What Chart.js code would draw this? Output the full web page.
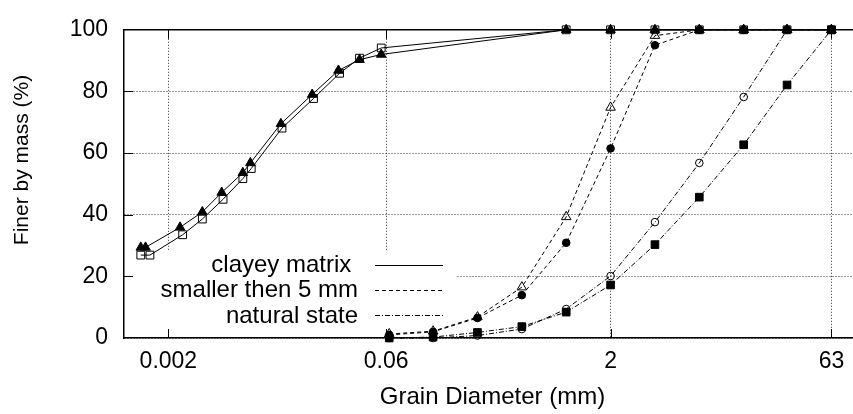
<!DOCTYPE html>
<html>
<head>
<meta charset="utf-8">
<title>Grain size distribution</title>
<script src="https://cdn.jsdelivr.net/npm/chart.js@4.4.1/dist/chart.umd.min.js"></script>
<style>
    html, body { margin: 0; padding: 0; background: #fff; overflow: hidden; }
    canvas { display: block; }
</style>
</head>
<body>
<canvas id="chart" width="880" height="414"></canvas>
<script>
// sieve sizes (mm) for the coarse part of every curve
const sieveSizes = [0.063, 0.125, 0.25, 0.5, 1, 2, 4, 8, 16, 31.5, 63];

// clayey matrix (hydrometer + sieve), two samples
const clayeySquareX = [0.0013, 0.0015, 0.0025, 0.0034, 0.0047, 0.0064, 0.0073, 0.0118, 0.0193, 0.029, 0.0396, 0.0556, 1, 2, 4, 8, 16, 31.5, 63];
const clayeySquareY = [26.9, 26.9, 33.5, 38.6, 45.0, 51.7, 55.0, 68.1, 77.7, 85.9, 90.8, 94.1, 100, 100, 100, 100, 100, 100, 100];
const clayeyTriangleX = [0.0013, 0.0014, 0.0024, 0.0034, 0.0046, 0.0064, 0.0072, 0.0116, 0.0189, 0.0285, 0.0396, 0.0556, 1, 2, 4, 8, 16, 31.5, 63];
const clayeyTriangleY = [29.4, 29.4, 35.9, 40.9, 47.2, 53.6, 56.8, 69.5, 79.0, 86.8, 90.3, 92.0, 100, 100, 100, 100, 100, 100, 100];

// smaller then 5 mm
const smallerTriangleY = [1.3, 2.2, 6.8, 16.5, 39.3, 74.8, 98.1, 100, 100, 100, 100];
const smallerCircleY = [1.0, 2.0, 6.5, 13.9, 30.9, 61.5, 95.0, 100, 100, 100, 100];

// natural state
const naturalCircleY = [0, 0, 0.8, 2.9, 9.4, 20.1, 37.6, 56.8, 78.2, 100, 100];
const naturalSquareY = [0, 0.3, 1.8, 3.7, 8.4, 17.2, 30.3, 45.7, 62.7, 82.1, 100];

const xTickValues = [0.002, 0.06, 2, 63];
const xTickLabels = ['0.002', '0.06', '2', '63'];
const legendLabels = ['clayey matrix ', 'smaller then 5 mm', 'natural state'];
const legendDashes = [[], [4, 3], [5, 2, 1, 2]];

const FONT = '"Liberation Sans", Arial, Helvetica, sans-serif';

function toPoints(xs, ys) {
    return xs.map((x, i) => ({ x: x, y: ys[i] }));
}

function series(label, points, dash, style, filled, radius) {
    return {
        label: label,
        data: points,
        borderColor: '#000',
        borderWidth: 1,
        borderDash: dash,
        pointStyle: style,
        pointRadius: radius,
        pointBorderWidth: 1,
        pointBorderColor: '#000',
        pointBackgroundColor: filled ? '#000' : 'rgba(0,0,0,0)',
        tension: 0,
        fill: false,
        clip: false
    };
}

// gnuplot-like opaque key, inward ticks, top border, y label
const framePlugin = {
    id: 'frame',
    beforeDatasetsDraw(chart) {
        const { ctx, chartArea } = chart;
        const left = chartArea.left;
        ctx.save();
        ctx.fillStyle = '#fff';
        ctx.fillRect(left + 9, 251, 323, 77);
        ctx.font = '24px ' + FONT;
        ctx.fillStyle = '#000';
        ctx.textAlign = 'right';
        ctx.textBaseline = 'middle';
        legendLabels.forEach((text, i) => {
            const y = 264.5 + i * 25.3;
            ctx.fillText(text, 358, y + 1);
            ctx.beginPath();
            ctx.setLineDash(legendDashes[i]);
            ctx.lineWidth = 1;
            ctx.strokeStyle = '#000';
            ctx.moveTo(375, Math.round(y) + 0.5);
            ctx.lineTo(443, Math.round(y) + 0.5);
            ctx.stroke();
        });
        ctx.restore();
    },
    afterDraw(chart) {
        const { ctx, chartArea, scales } = chart;
        const { left, right, top, bottom } = chartArea;
        ctx.save();
        ctx.strokeStyle = '#000';
        ctx.lineWidth = 1.5;
        ctx.setLineDash([]);
        ctx.beginPath();
        ctx.moveTo(left, top);
        ctx.lineTo(right, top);
        ctx.stroke();

        ctx.lineWidth = 1;
        ctx.beginPath();
        [20, 40, 60, 80].forEach(v => {
            const y = Math.round(scales.y.getPixelForValue(v)) + 0.5;
            ctx.moveTo(left, y);
            ctx.lineTo(left + 9, y);
        });
        xTickValues.forEach(v => {
            const x = Math.round(scales.x.getPixelForValue(v)) + 0.5;
            ctx.moveTo(x, bottom);
            ctx.lineTo(x, bottom - 9);
            ctx.moveTo(x, top);
            ctx.lineTo(x, top + 9);
        });
        ctx.stroke();

        ctx.translate(22.5, 160);
        ctx.rotate(-Math.PI / 2);
        ctx.font = '21px ' + FONT;
        ctx.fillStyle = '#000';
        ctx.textAlign = 'center';
        ctx.textBaseline = 'middle';
        ctx.fillText('Finer by mass (%)', 0, 0);
        ctx.restore();
    }
};

const ctx = document.getElementById('chart').getContext('2d');

new Chart(ctx, {
    type: 'line',
    data: {
        datasets: [
            series('clayey matrix', toPoints(clayeySquareX, clayeySquareY), [], 'rect', false, 5.5),
            series('clayey matrix', toPoints(clayeyTriangleX, clayeyTriangleY), [], 'triangle', true, 5.5),
            series('smaller then 5 mm', toPoints(sieveSizes, smallerTriangleY), [4, 3], 'triangle', false, 5.5),
            series('smaller then 5 mm', toPoints(sieveSizes, smallerCircleY), [4, 3], 'circle', true, 3.8),
            series('natural state', toPoints(sieveSizes, naturalCircleY), [5, 2, 1, 2], 'circle', false, 3.8),
            series('natural state', toPoints(sieveSizes, naturalSquareY), [5, 2, 1, 2], 'rect', true, 5.4)
        ]
    },
    options: {
        responsive: false,
        maintainAspectRatio: false,
        animation: false,
        layout: { padding: { top: 19, right: 19, left: 0, bottom: 0 } },
        plugins: {
            legend: { display: false },
            tooltip: { enabled: false }
        },
        scales: {
            x: {
                type: 'logarithmic',
                min: 0.001,
                max: 100,
                afterBuildTicks: scale => {
                    scale.ticks = xTickValues.map(v => ({ value: v }));
                },
                afterFit: scale => { scale.height = 76; },
                ticks: {
                    autoSkip: false,
                    maxRotation: 0,
                    padding: 10,
                    color: '#000',
                    font: { family: FONT, size: 23 },
                    callback: (value, index) => xTickLabels[index]
                },
                grid: { color: '#333', lineWidth: 1, drawTicks: false },
                border: { display: true, color: '#000', width: 1.5, dash: [1, 2] },
                title: {
                    display: true,
                    text: 'Grain Diameter (mm)',
                    color: '#000',
                    font: { family: FONT, size: 24 },
                    padding: { top: 0, bottom: 2 }
                }
            },
            y: {
                min: 0,
                max: 100,
                afterFit: scale => { scale.width = 124; },
                ticks: {
                    stepSize: 20,
                    padding: 16,
                    color: '#000',
                    font: { family: FONT, size: 23 }
                },
                grid: { color: '#333', lineWidth: 1, drawTicks: false },
                border: { display: true, color: '#000', width: 1.5, dash: [1, 2] }
            }
        }
    },
    plugins: [framePlugin]
});
</script>
</body>
</html>
